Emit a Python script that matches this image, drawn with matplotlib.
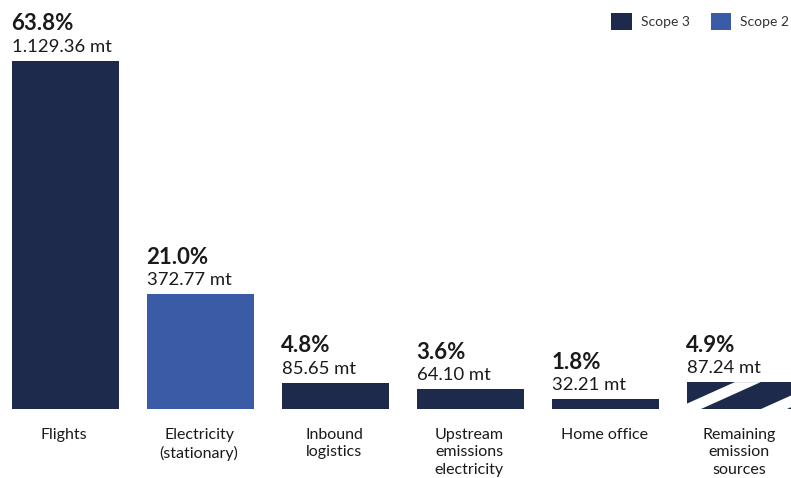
import matplotlib
matplotlib.use("Agg")
import matplotlib.pyplot as plt
from matplotlib.patches import Patch, Polygon
from matplotlib.transforms import IdentityTransform

plt.rcParams['font.family'] = ['Lato', 'DejaVu Sans']

categories = ["Flights", "Electricity\n(stationary)", "Inbound\nlogistics",
              "Upstream\nemissions\nelectricity", "Home office",
              "Remaining\nemission\nsources"]
shares = [63.8, 21.0, 4.8, 3.6, 1.8, 4.9]
emissions_mt = [1129.36, 372.77, 85.65, 64.10, 32.21, 87.24]
scopes = ["Scope 3", "Scope 2", "Scope 3", "Scope 3", "Scope 3", "Other"]
legend_labels = ["Scope 3", "Scope 2"]

navy = "#1d2a4b"
blue = "#3a5ba6"
ink = "#1a1a1a"
scope_colors = {"Scope 3": navy, "Scope 2": blue, "Other": navy}

W, H = 791, 478
fig = plt.figure(figsize=(W / 100, H / 100), dpi=100)
# axes spans the whole width; bottom at bar base, top at tallest bar
ax = fig.add_axes([0, 1 - 409 / H, 1, (409 - 61) / H])
ax.set_axis_off()

step = 135.0
x = list(range(len(categories)))
ax.set_xlim(-65.5 / step, (W - 65.5) / step)
ax.set_ylim(0, max(emissions_mt))

bars = ax.bar(x, emissions_mt, width=107 / step,
              color=[scope_colors[s] for s in scopes], clip_on=False)

for i, b in enumerate(bars):
    left = b.get_x()
    h = b.get_height()
    ax.annotate(f"{shares[i]:.1f}%", (left, h), xytext=(-0.6, 22),
                textcoords="offset points", ha="left", va="baseline",
                fontsize=16, fontweight="bold", color=ink, annotation_clip=False)
    val = f"{emissions_mt[i]:,.2f}".replace(",", ".")
    ax.annotate(f"{val} mt", (left, h), xytext=(-0.3, 6.3),
                textcoords="offset points", ha="left", va="baseline",
                fontsize=13.3, color=ink, annotation_clip=False)
    ax.annotate(categories[i], (b.get_x() + b.get_width() / 2, 0),
                xytext=(-1, -13.5), textcoords="offset points", ha="center",
                va="top", fontsize=11.5, color=ink, linespacing=1.32,
                annotation_clip=False)

# diagonal white stripes on the "remaining" bar
fig.canvas.draw()
for b, s in zip(bars, scopes):
    if s != "Other":
        continue
    ext = b.get_window_extent()
    slope = 0.45
    run = ext.height / slope
    white, period = 26.0, 86.0
    start = ext.x0 - 12.0 - period
    while start < ext.x1 + run:
        pts = [(start, ext.y0), (start + white, ext.y0),
               (start + white + run, ext.y1), (start + run, ext.y1)]
        stripe = Polygon(pts, closed=True, facecolor="white", edgecolor="none",
                         transform=IdentityTransform())
        stripe.set_clip_path(b)
        fig.add_artist(stripe)
        start += period

handles = [Patch(facecolor=scope_colors[l], edgecolor="none") for l in legend_labels]
fig.legend(handles, legend_labels, loc="upper left",
           bbox_to_anchor=(611 / W, 1 - 13 / H), ncol=2, frameon=False,
           fontsize=10, handlelength=1.5, handleheight=1.5, handletextpad=0.65,
           columnspacing=1.5, borderpad=0, borderaxespad=0, labelcolor="#333333")

fig.savefig("out.png", dpi=100)
